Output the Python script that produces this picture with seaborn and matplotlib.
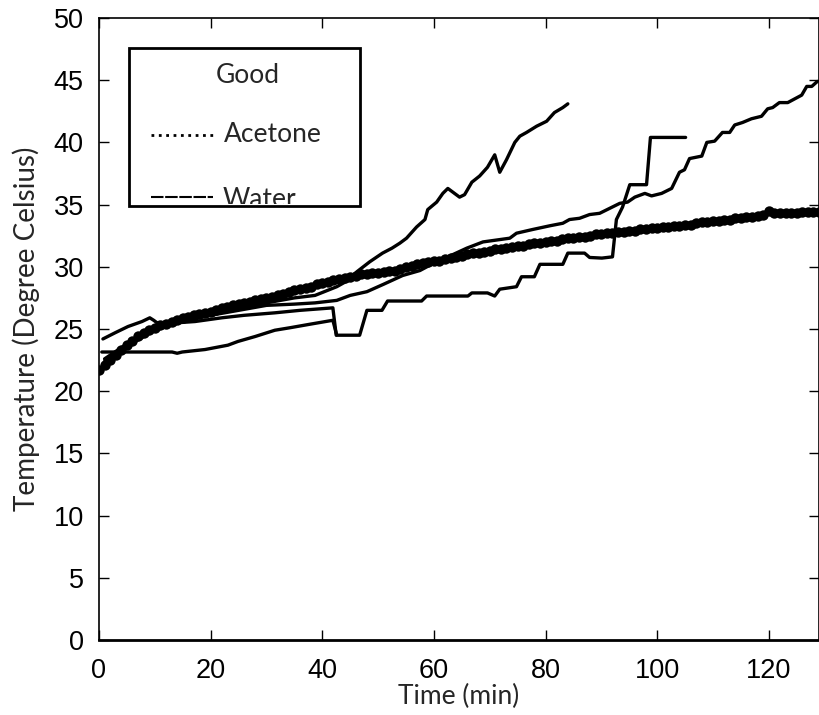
import numpy as np
import pandas as pd
import matplotlib
matplotlib.use("Agg")
import matplotlib.pyplot as plt
from matplotlib.patches import Rectangle
import seaborn as sns

# ---------------- data ----------------
acetone_t = list(range(0, 130))
acetone_temp = [
    21.7, 22.1, 22.5, 22.9, 23.3, 23.7, 24.0, 24.4, 24.7, 24.9,
    25.1, 25.3, 25.4, 25.6, 25.7, 25.9, 26.0, 26.1, 26.2, 26.3,
    26.4, 26.5, 26.7, 26.8, 26.9, 27.0, 27.1, 27.2, 27.3, 27.4,
    27.5, 27.6, 27.7, 27.8, 28.0, 28.1, 28.2, 28.3, 28.4, 28.6,
    28.7, 28.8, 28.9, 29.0, 29.1, 29.2, 29.3, 29.4, 29.4, 29.5,
    29.5, 29.6, 29.7, 29.7, 29.8, 30.0, 30.1, 30.2, 30.3, 30.4,
    30.5, 30.5, 30.6, 30.7, 30.8, 30.9, 31.0, 31.1, 31.1, 31.2,
    31.3, 31.4, 31.4, 31.5, 31.6, 31.7, 31.7, 31.8, 31.9, 31.9,
    32.0, 32.1, 32.1, 32.2, 32.3, 32.3, 32.4, 32.4, 32.5, 32.6,
    32.6, 32.7, 32.7, 32.8, 32.8, 32.9, 32.9, 33.0, 33.0, 33.1,
    33.1, 33.2, 33.2, 33.3, 33.3, 33.4, 33.4, 33.5, 33.6, 33.6,
    33.7, 33.7, 33.8, 33.8, 33.9, 33.9, 34.0, 34.0, 34.1, 34.2,
    34.5, 34.3, 34.3, 34.3, 34.3, 34.3, 34.4, 34.4, 34.4, 34.4,
]

# water run 1: starts 24.2, ends into the step run at ~42 min
run1_t = [0.7, 2.9, 5.2, 7.7, 9.1, 9.8, 10.4, 14.0, 17.2, 22.0, 26.0, 31.5, 36.0, 41.9, 42.5]
run1_temp = [24.2, 24.7, 25.2, 25.6, 25.9, 25.7, 25.5, 25.5, 25.6, 25.9, 26.1, 26.3, 26.5, 26.7, 24.5]

# water run 2: flat start at 23.1, stepped, ends at 105 min
run2_t = [0.5, 13.1, 14.0, 14.9, 19.0, 23.1, 24.9, 28.0, 31.5, 34.2, 38.0, 41.9, 42.6,
          46.7, 48.0, 50.7, 51.7, 57.8, 58.7, 66.1, 66.8, 69.6, 70.9, 71.8, 74.8,
          75.7, 78.0, 79.0, 83.1, 84.0, 87.0, 87.9, 90.1, 92.0, 92.7, 93.8, 95.1,
          98.1, 98.8, 105.1]
run2_temp = [23.15, 23.15, 23.05, 23.15, 23.35, 23.7, 24.0, 24.4, 24.9, 25.1, 25.4, 25.7, 24.5,
             24.5, 26.5, 26.5, 27.25, 27.25, 27.65, 27.65, 27.9, 27.9, 27.65, 28.2, 28.4,
             29.2, 29.2, 30.2, 30.2, 31.1, 31.1, 30.75, 30.7, 30.8, 33.8, 34.8, 36.6,
             36.6, 40.4, 40.4]

# water run 3: hidden under the acetone trace, then rises to 45 at 129 min
run3_t = [1.0, 5.0, 10.0, 15.0, 20.0, 25.0, 30.0, 35.0, 38.7, 42.6, 45.0, 48.0, 51.0,
          54.4, 57.5, 60.0, 63.0, 65.9, 68.8, 73.6, 74.8, 77.7, 80.8, 83.1, 84.3,
          86.1, 87.9, 89.7, 91.5, 93.3, 94.7, 96.0, 97.8, 99.0, 100.8, 102.6, 104.0,
          104.9, 105.8, 108.0, 108.9, 110.3, 111.7, 113.0, 113.9, 115.3, 116.9, 118.7,
          119.8, 120.7, 121.9, 123.4, 125.9, 126.8, 127.7, 128.7]
run3_temp = [22.6, 23.8, 24.9, 25.6, 26.1, 26.5, 26.9, 27.0, 27.1, 27.3, 27.7, 28.0, 28.6,
             29.3, 29.7, 30.3, 30.9, 31.5, 32.0, 32.3, 32.7, 33.0, 33.3, 33.5, 33.8,
             33.9, 34.2, 34.3, 34.7, 35.1, 35.2, 35.6, 35.9, 35.7, 35.9, 36.3, 37.6,
             37.8, 38.7, 38.9, 40.0, 40.1, 40.8, 40.8, 41.4, 41.6, 41.9, 42.1,
             42.7, 42.8, 43.2, 43.2, 43.8, 44.5, 44.5, 44.9]

# water run 4: under the acetone trace, then steep rise to 43 at 84 min
run4_t = [1.0, 5.0, 10.0, 15.0, 20.0, 25.0, 30.0, 35.0, 38.7, 42.6, 44.6, 46.2, 48.5,
          50.8, 52.5, 53.9, 55.1, 56.9, 58.4, 58.9, 60.5, 61.6, 62.5, 63.4, 64.6,
          65.5, 66.8, 68.2, 69.6, 70.9, 71.8, 73.0, 74.5, 75.4, 76.6, 78.4, 80.2,
          81.6, 83.1, 84.0]
run4_temp = [22.4, 23.6, 24.9, 25.7, 26.2, 26.7, 27.1, 27.5, 27.7, 28.4, 28.9, 29.6, 30.4,
             31.1, 31.5, 31.9, 32.3, 33.2, 33.8, 34.6, 35.2, 35.9, 36.3, 36.0, 35.6,
             35.8, 36.8, 37.3, 38.0, 39.0, 37.6, 38.6, 40.0, 40.5, 40.8, 41.3, 41.7,
             42.4, 42.8, 43.1]

x_ticks = [0, 20, 40, 60, 80, 100, 120]
y_ticks = [0, 5, 10, 15, 20, 25, 30, 35, 40, 45, 50]
legend_title = "Good"
legend_labels = ["Acetone", "Water"]

# ---------------- style ----------------
sns.set_style("ticks")
plt.rcParams["font.family"] = ["Liberation Sans", "DejaVu Sans"]
label_font = ["Lato", "DejaVu Sans"]

fig = plt.figure(figsize=(8.19, 7.15), dpi=100)
ax = fig.add_axes([99 / 819, 75 / 715, 720 / 819, 622 / 715])

for t, v in [(run1_t, run1_temp), (run2_t, run2_temp),
             (run3_t, run3_temp), (run4_t, run4_temp)]:
    df = pd.DataFrame({"t": t, "v": v})
    sns.lineplot(data=df, x="t", y="v", ax=ax, color="black", linewidth=2.4,
                 sort=False, estimator=None, zorder=3)

df_ac = pd.DataFrame({"t": acetone_t, "v": acetone_temp})
sns.lineplot(data=df_ac, x="t", y="v", ax=ax, color="black", linewidth=2,
             linestyle=":", marker="o", markersize=7.5, markeredgewidth=0,
             sort=False, estimator=None, zorder=4)

ax.set_xlim(0, 129)
ax.set_ylim(0, 50)
ax.set_xticks(x_ticks)
ax.set_yticks(y_ticks)
ax.tick_params(direction="in", length=7, width=1, top=True, right=True,
               labelsize=19.5, colors="black")
ax.tick_params(axis="x", pad=13)
ax.tick_params(axis="y", pad=11)
for s in ax.spines.values():
    s.set_visible(True)
    s.set_color("black")
    s.set_linewidth(1.2)
ax.spines["bottom"].set_linewidth(2)
ax.set_xlabel("Time (min)", fontsize=19, family=label_font, labelpad=0)
ax.set_ylabel("Temperature (Degree Celsius)", fontsize=20,
              family=label_font, labelpad=10)

# ---------------- legend box (clipped like the reference) ----------------
bx, by, bw, bh = 0.0417, 0.6977, 0.3208, 0.2541
ax.add_patch(Rectangle((bx, by), bw, bh, transform=ax.transAxes,
                       facecolor="white", edgecolor="none", zorder=10))
clip = Rectangle((bx, by + 0.004), bw, bh, transform=ax.transAxes,
                 facecolor="none", edgecolor="none")
ax.add_patch(clip)
ax.text(0.207, 0.908, legend_title, transform=ax.transAxes, ha="center", va="center",
        fontsize=19, family=label_font, zorder=11)
ax.plot([0.072, 0.161], [0.812, 0.812], transform=ax.transAxes, color="black",
        linewidth=2, linestyle=":", zorder=11)
ax.text(0.174, 0.812, legend_labels[0], transform=ax.transAxes, ha="left", va="center",
        fontsize=19, family=label_font, zorder=11)
wl, = ax.plot([0.072, 0.158], [0.712, 0.712], transform=ax.transAxes, color="black",
              linewidth=1.5, linestyle=(0, (6, 0.8)), zorder=11)
wl.set_clip_path(clip)
wt = ax.text(0.171, 0.708, legend_labels[1], transform=ax.transAxes, ha="left",
             va="center", fontsize=19, family=label_font, zorder=11)
wt.set_clip_path(clip)
wt.set_clip_on(True)
ax.add_patch(Rectangle((bx, by), bw, bh, transform=ax.transAxes,
                       facecolor="none", edgecolor="black", linewidth=2, zorder=12))

fig.savefig("out.png", dpi=100, facecolor="white")
